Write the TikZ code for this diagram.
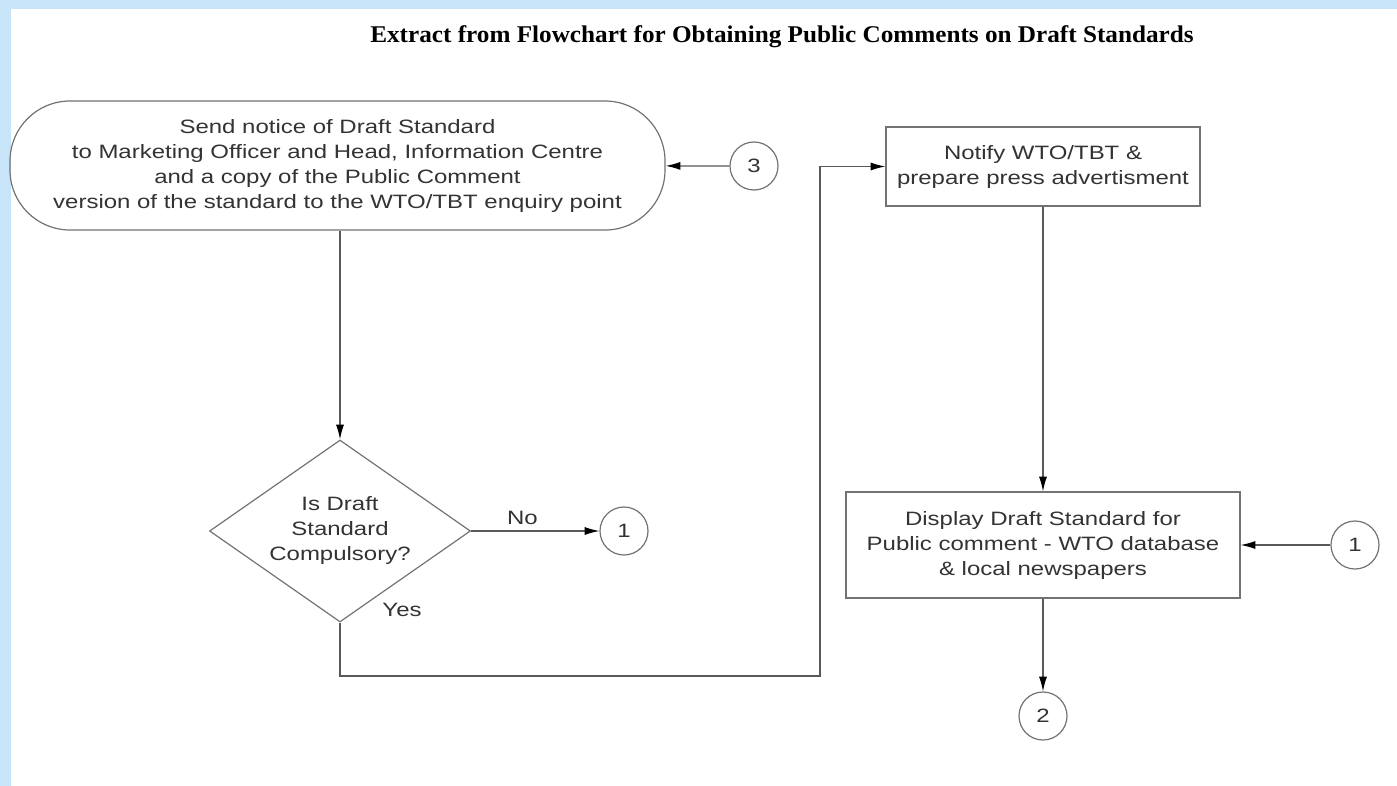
\documentclass[tikz,border=0pt]{standalone}
\usepackage{fontspec}
\setmainfont[FakeStretch=1.24]{Liberation Sans}
\newfontfamily\titlefont[FakeStretch=1.05]{Liberation Serif}
\usetikzlibrary{shapes.geometric,arrows.meta}
\definecolor{frameblue}{HTML}{C8E4F8}
\definecolor{inkgray}{HTML}{333333}
\tikzset{
  body/.style={font=\fontsize{14.5}{18.75}\selectfont,text=inkgray,align=center},
  flowline/.style={draw=black!65,line width=0.9pt},
  arr/.style={flowline,-{Latex[length=11pt,width=6pt,fill=black,color=black]}},
  terminal/.style={body,draw=black!55,line width=0.9pt,rounded corners=45pt,
    minimum width=491.25pt,minimum height=96.75pt,inner sep=0pt},
  process/.style={body,draw=black!55,line width=0.9pt,inner sep=0pt},
  decision/.style={body,diamond,draw=black!55,line width=0.9pt,inner sep=1pt,
    shape aspect=1.43,minimum width=195.75pt,minimum height=136.5pt},
  conn/.style={body,circle,draw=black!55,line width=0.9pt,minimum size=36pt,inner sep=0pt},
}
\begin{document}
\begin{tikzpicture}[x=0.75pt,y=-0.75pt]
\useasboundingbox (0,0) rectangle (1397,786);
\fill[white] (0,0) rectangle (1397,786);
\fill[frameblue] (0,0) rectangle (1397,9);
\fill[frameblue] (0,0) rectangle (11,786);

\node[font=\titlefont\bfseries\fontsize{18}{20}\selectfont] (title) at (782,37)
  {Extract from Flowchart for Obtaining Public Comments on Draft Standards};

\node[terminal] (send) at (337.5,165.5) {Send notice of Draft Standard\\
  to Marketing Officer and Head, Information Centre\\
  and a copy of the Public Comment\\
  version of the standard to the WTO/TBT enquiry point};
\node[conn] (c3) at (754,166) {3};
\node[decision] (dec) at (340,531) {Is Draft\\Standard\\Compulsory?};
\node[conn] (c1a) at (624,531) {1};
\node[process,minimum width=235.5pt,minimum height=59.25pt] (notify) at (1043,166.5)
  {Notify WTO/TBT \&\\prepare press advertisment};
\node[process,minimum width=295.5pt,minimum height=79.5pt] (display) at (1043,545)
  {Display Draft Standard for\\Public comment - WTO database\\\& local newspapers};
\node[conn] (c1b) at (1355,545) {1};
\node[conn] (c2) at (1043,716) {2};
\coordinate (bend) at (820,676);

\draw[arr] (c3) -- (send);
\draw[arr] (send.south -| dec.north) -- (dec.north);
\draw[arr] (dec.east) -- node[body,above=1pt,pos=0.4] {No} (c1a);
\node[body] (yes) at (402,610) {Yes};
\draw[arr] (dec.south) |- (bend) |- (notify.west);
\draw[arr] (notify) -- (display);
\draw[arr] (c1b) -- (display);
\draw[arr] (display) -- (c2);
\end{tikzpicture}
\end{document}
